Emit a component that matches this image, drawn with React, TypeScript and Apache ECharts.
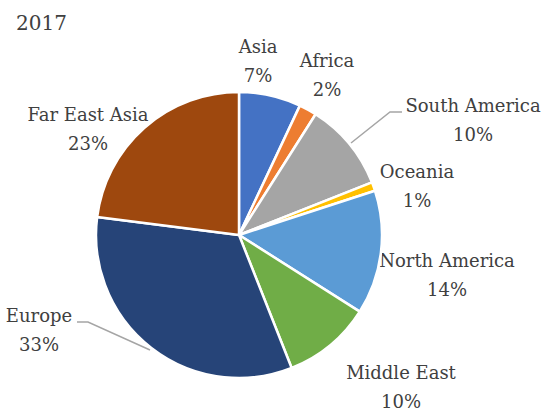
import React, { useEffect, useRef } from "react";
import * as echarts from "echarts";

const regions = ["Asia", "Africa", "South America", "Oceania", "North America", "Middle East", "Europe", "Far East Asia"];
const shares = [7, 2, 10, 1, 14, 10, 33, 23];
const colors = ["#4472C4", "#ED7D31", "#A5A5A5", "#FFC000", "#5B9BD5", "#70AD47", "#264478", "#9E480E"];
const title = "2017";

// label block centres (layout)
const labelCenters: [number, number][] = [
  [258, 61], [327, 75], [473, 120], [417, 186], [447, 275], [401, 387], [39, 330], [88, 129],
];
// leader lines (layout) for labels pulled away from the slice
const leaderLines: Record<number, [number, number][]> = {
  2: [[351, 143], [390, 112], [402, 112]],
  6: [[150, 350], [88, 322], [77, 322]],
};

export default function App() {
  const ref = useRef<HTMLDivElement>(null);
  useEffect(() => {
    const chart = echarts.init(ref.current!, null, { renderer: "svg" });
    const font = "DejaVu Serif";
    const mk = (text: string, x: number, y: number) => ({
      type: "text",
      x,
      y,
      style: {
        text,
        fontFamily: font,
        fontSize: 18,
        fontWeight: "normal",
        fontStyle: "normal",
        fill: "#404040",
        align: "center",
        verticalAlign: "middle",
      },
    });
    const labelTexts: any[] = [];
    regions.forEach((name, i) => {
      const [cx, cy] = labelCenters[i];
      labelTexts.push(mk(name, cx, cy - 14.5));
      labelTexts.push(mk(shares[i] + "%", cx, cy + 14.5));
    });
    const lines = Object.keys(leaderLines).map((k) => ({
      type: "polyline",
      shape: { points: leaderLines[+k] },
      style: { stroke: "#A5A5A5", lineWidth: 1.5, fill: "none" },
    }));
    chart.setOption({
      animation: false,
      backgroundColor: "#ffffff",
      title: {
        text: title,
        left: 11,
        top: 8,
        textStyle: { fontFamily: font, fontSize: 20, fontWeight: "normal", color: "#404040" },
      },
      graphic: [...lines, ...labelTexts],
      series: [
        {
          type: "pie",
          center: [239, 235],
          radius: 143,
          startAngle: 90,
          clockwise: true,
          itemStyle: { borderColor: "#ffffff", borderWidth: 2.5 },
          label: { show: false },
          labelLine: { show: false },
          data: regions.map((name, i) => ({
            name,
            value: shares[i],
            itemStyle: { color: colors[i] },
          })),
        },
      ],
    });
    return () => chart.dispose();
  }, []);
  return <div ref={ref} style={{ position: "absolute", left: 0, top: 0, width: 550, height: 419 }} />;
}
